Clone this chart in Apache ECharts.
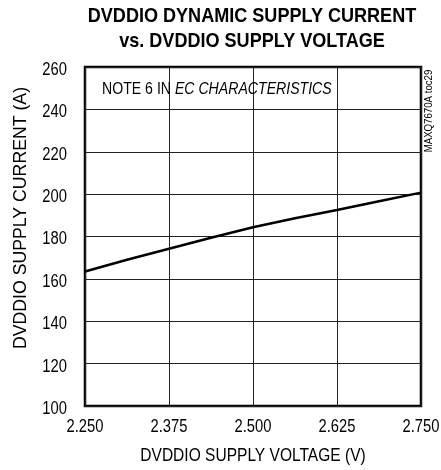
<!DOCTYPE html>
<html>
<head>
<meta charset="utf-8">
<script src="https://cdn.jsdelivr.net/npm/echarts@6/dist/echarts.min.js"></script>
<style>
  html, body { margin: 0; padding: 0; background: #fff; }
  #chart { width: 441px; height: 470px; }
</style>
</head>
<body>
<div id="chart"></div>
<script>
// supply voltage (V) and dynamic current
const voltage = [2.25, 2.3125, 2.375, 2.4375, 2.5, 2.5625, 2.625, 2.6875, 2.75];
const current = [163.5, 169.0, 174.2, 179.4, 184.4, 188.6, 192.5, 196.6, 200.7];
const xTicks = [2.25, 2.375, 2.5, 2.625, 2.75];
const yTicks = [100, 120, 140, 160, 180, 200, 220, 240, 260];
const titleLines = ['DVDDIO DYNAMIC SUPPLY CURRENT', 'vs. DVDDIO SUPPLY VOLTAGE'];

// no narrow font is installed, so condensed text is Liberation Sans squeezed with scaleX
const font = '"Liberation Sans", Arial, sans-serif';
const squeeze = 0.82;

const chart = echarts.init(document.querySelector('#chart'));
chart.setOption({
    animation: false,
    grid: {
        left: 85,
        right: 20,
        top: 67,
        bottom: 64,
        show: true,
        borderColor: '#000',
        borderWidth: 2.5,
        backgroundColor: 'transparent'
    },
    xAxis: {
        type: 'value',
        min: xTicks[0],
        max: xTicks[xTicks.length - 1],
        interval: 0.125,
        axisLine: { show: false },
        axisTick: { show: false },
        axisLabel: { show: false },
        splitLine: { lineStyle: { color: '#222', width: 1 } }
    },
    yAxis: {
        type: 'value',
        min: yTicks[0],
        max: yTicks[yTicks.length - 1],
        interval: 20,
        axisLine: { show: false },
        axisTick: { show: false },
        axisLabel: { show: false },
        splitLine: { lineStyle: { color: '#222', width: 1 } }
    },
    series: [{
        type: 'line',
        data: voltage.map((v, i) => [v, current[i]]),
        showSymbol: false,
        lineStyle: { color: '#000', width: 2.5 },
        z: 5
    }]
});

function label(text, x, y, opts) {
    return {
        type: 'text',
        x: x,
        y: y,
        scaleX: opts.scaleX || 1,
        rotation: opts.rotation || 0,
        style: Object.assign({
            text: text,
            fontFamily: font,
            fontSize: 18,
            fill: '#000',
            align: 'center',
            verticalAlign: 'middle'
        }, opts.style || {})
    };
}

const graphics = [];

titleLines.forEach((line, i) => {
    graphics.push(label(line, 252, 16 + i * 25.5, {
        scaleX: 0.86,
        style: { fontSize: 21, fontWeight: 'bold' }
    }));
});

xTicks.forEach(v => {
    const p = chart.convertToPixel({ gridIndex: 0 }, [v, yTicks[0]]);
    graphics.push(label(v.toFixed(3), p[0], 427, { scaleX: squeeze }));
});

yTicks.forEach(v => {
    const p = chart.convertToPixel({ gridIndex: 0 }, [xTicks[0], v]);
    graphics.push(label(String(v), 67, p[1] + 3, { scaleX: squeeze, style: { align: 'right' } }));
});

graphics.push(label('DVDDIO SUPPLY VOLTAGE (V)', 253, 456, { scaleX: 0.84, style: { fontSize: 18.5 } }));
graphics.push(label('DVDDIO SUPPLY CURRENT (A)', 21, 218, {
    rotation: Math.PI / 2,
    style: { fontSize: 17.7 }
}));
graphics.push(label('{n|NOTE 6 IN }{i|EC CHARACTERISTICS}', 102, 89, {
    scaleX: 0.83,
    style: {
        align: 'left',
        rich: {
            n: { fontFamily: font, fontSize: 17, fill: '#000' },
            i: { fontFamily: font, fontSize: 17, fontStyle: 'italic', fill: '#000' }
        }
    }
}));
graphics.push(label('MAXQ7670A toc29', 429, 111, {
    rotation: Math.PI / 2,
    scaleX: 0.84,
    style: { fontSize: 11.5 }
}));

chart.setOption({ graphic: graphics });
</script>
</body>
</html>
